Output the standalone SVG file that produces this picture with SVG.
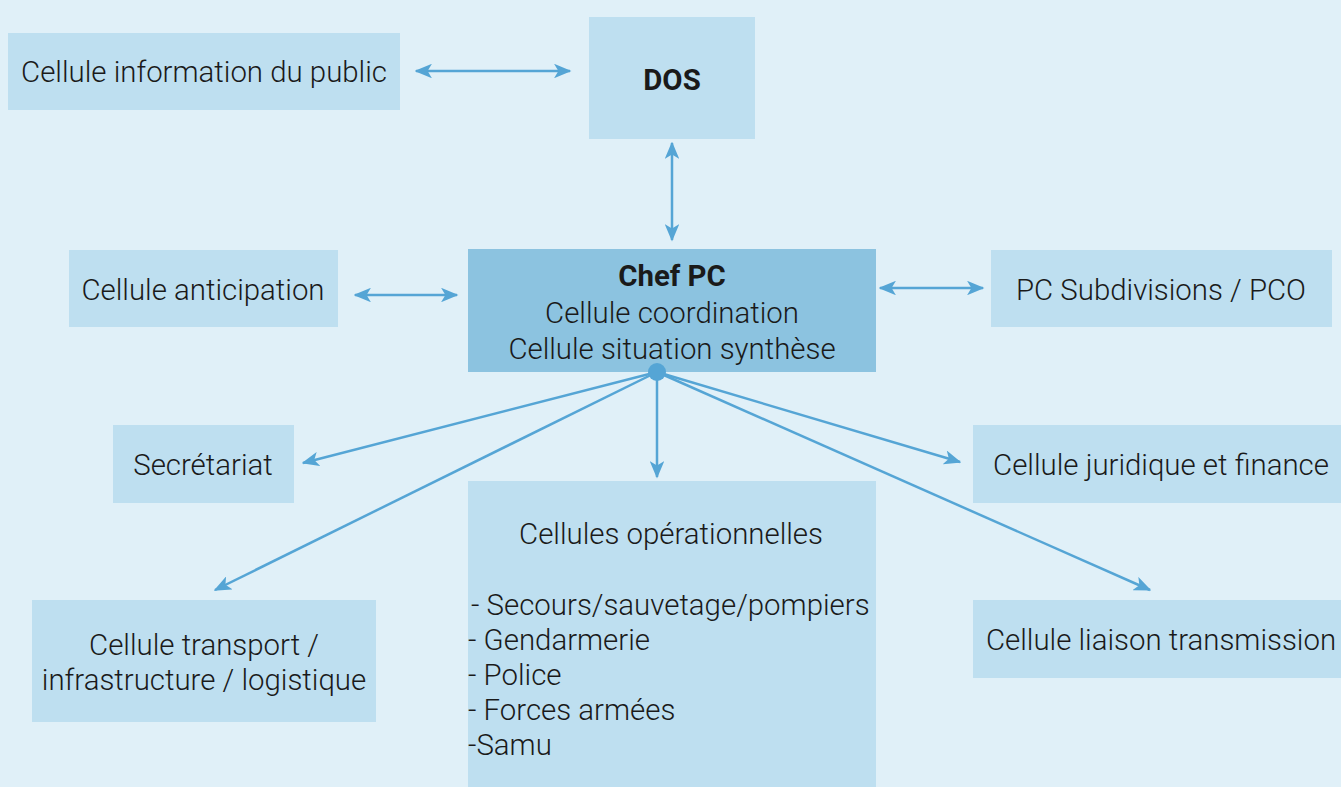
<svg xmlns="http://www.w3.org/2000/svg" width="1341" height="787" viewBox="0 0 1341 787">
<style>
.bg{fill:#e0f0f8}
.box{fill:#bedff0}
.main{fill:#8cc3e0}
text{font-family:Roboto,"Liberation Sans",sans-serif;font-weight:300;font-size:29.4px;fill:#1a1a1a}
.c{text-anchor:middle}
.b{font-weight:700}
.conn line{stroke:#55a5d5;stroke-width:2.5;fill:none}
</style>
<defs>
<marker id="ah" viewBox="0 0 12 10" refX="11" refY="5" markerWidth="7" markerHeight="5.8" orient="auto-start-reverse" markerUnits="strokeWidth">
<path d="M0,0 L12,5 L0,10 L3,5 z" fill="#55a5d5"/>
</marker>
</defs>
<rect class="bg" x="0" y="0" width="1341" height="787"/>
<g id="info-public"><rect class="box" x="8" y="33" width="392" height="77"/><text class="c" x="204" y="82">Cellule information du public</text></g>
<g id="dos"><rect class="box" x="589" y="17" width="166" height="122"/><text class="c b" x="672" y="90">DOS</text></g>
<g id="chef-pc"><rect class="main" x="468" y="249" width="408" height="123"/>
<text class="c b" x="672" y="286">Chef PC</text>
<text class="c" x="672" y="323">Cellule coordination</text>
<text class="c" x="672" y="359">Cellule situation synthèse</text></g>
<g id="anticipation"><rect class="box" x="69" y="250" width="269" height="77"/><text class="c" x="203" y="300">Cellule anticipation</text></g>
<g id="pc-subdivisions"><rect class="box" x="991" y="250" width="341" height="77"/><text class="c" x="1161" y="300">PC Subdivisions / PCO</text></g>
<g id="secretariat"><rect class="box" x="113" y="425" width="181" height="78"/><text class="c" x="203" y="475">Secrétariat</text></g>
<g id="juridique"><rect class="box" x="973" y="425" width="368" height="78"/><text class="c" x="1161" y="475">Cellule juridique et finance</text></g>
<g id="operationnelles"><rect class="box" x="468" y="481" width="408" height="306"/>
<text class="c" x="671" y="544">Cellules opérationnelles</text>
<text x="471" y="615"> - Secours/sauvetage/pompiers</text>
<text x="468" y="650">- Gendarmerie</text>
<text x="468" y="685">- Police</text>
<text x="468" y="720">- Forces armées</text>
<text x="468" y="755">-Samu</text></g>
<g id="transport"><rect class="box" x="32" y="600" width="344" height="122"/>
<text class="c" x="204" y="655">Cellule transport /</text>
<text class="c" x="204" y="690">infrastructure / logistique</text></g>
<g id="liaison"><rect class="box" x="973" y="600" width="368" height="78"/><text class="c" x="1161" y="650">Cellule liaison transmission</text></g>
<g id="connectors" class="conn">
<line x1="416" y1="71" x2="570" y2="71" marker-start="url(#ah)" marker-end="url(#ah)"/>
<line x1="672" y1="143" x2="672" y2="240" marker-start="url(#ah)" marker-end="url(#ah)"/>
<line x1="355" y1="295" x2="457" y2="295" marker-start="url(#ah)" marker-end="url(#ah)"/>
<line x1="880" y1="288" x2="983" y2="288" marker-start="url(#ah)" marker-end="url(#ah)"/>
<line x1="657" y1="372" x2="303" y2="463" marker-end="url(#ah)"/>
<line x1="657" y1="372" x2="215" y2="590" marker-end="url(#ah)"/>
<line x1="657" y1="372" x2="657" y2="477" marker-end="url(#ah)"/>
<line x1="657" y1="372" x2="960" y2="462" marker-end="url(#ah)"/>
<line x1="657" y1="372" x2="1150" y2="590" marker-end="url(#ah)"/>
<circle cx="657" cy="372" r="9" fill="#55a5d5"/>
</g>
</svg>
